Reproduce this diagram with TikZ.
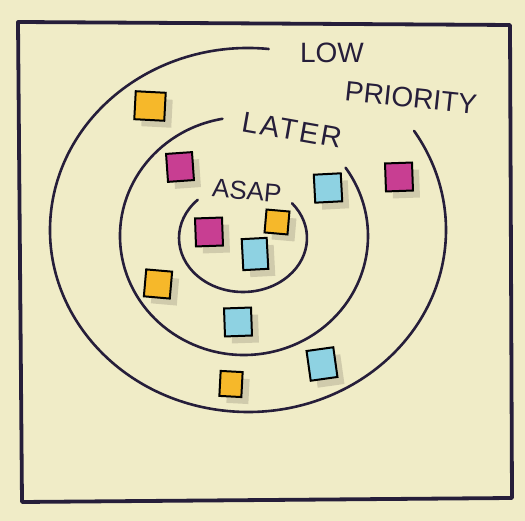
\documentclass[tikz,border=0pt]{standalone}
\usepackage{fontspec}
\setmainfont{Liberation Sans}
\usetikzlibrary{shadows}

\definecolor{paper}{RGB}{240,236,199}
\definecolor{ink}{RGB}{38,30,58}
\definecolor{noteyellow}{RGB}{246,184,42}
\definecolor{notepink}{RGB}{200,62,146}
\definecolor{notecyan}{RGB}{142,210,226}
\definecolor{shade}{RGB}{150,144,122}

\begin{document}
\begin{tikzpicture}[x=1pt, y=1pt,
    ring/.style={draw=ink, line width=2.6pt, line cap=round},
    label/.style={text=ink, inner sep=0pt, font=\fontsize{28}{30}\selectfont},
    note/.style={draw=black, line width=2pt, inner sep=0pt,
        minimum width=27pt, minimum height=28pt,
        drop shadow={shadow xshift=7pt, shadow yshift=-7pt, opacity=0.35, fill=shade}}]
    % sheet and frame
    \fill[paper] (0,0) rectangle (525,521);
    \draw[draw=ink, line width=3.8pt, line join=round] (18,499) -- (510,496) -- (512,23) -- (22,19) -- cycle;

    % the three rings, each left open at the top right
    \draw[ring] (248,291) ++(84:198 and 182) arc[start angle=84, end angle=393, x radius=198, y radius=182];
    \draw[ring] (244,285) ++(100:124 and 119) arc[start angle=100, end angle=395, x radius=124, y radius=119];
    \draw[ring] (243,283) ++(135:64 and 54) arc[start angle=135, end angle=400, x radius=64, y radius=54];

    % ring names
    \node[label] (low) at (332,468) {LOW};
    \node[label, rotate=-6] (priority) at (411,423) {PRIORITY};
    \node[label, rotate=-10, font=\fontsize{29}{31}\selectfont\addfontfeature{LetterSpace=8}] (later) at (292,391) {LATER};
    \node[label, rotate=-5, font=\fontsize{26}{28}\selectfont] (asap) at (247,330) {ASAP};

    % notes in the inner ring
    \node[note, fill=notepink, rotate=2] (asapPink) at (209,289) {};
    \node[note, fill=noteyellow, rotate=-5, minimum width=23pt, minimum height=23pt] (asapYellow) at (277,299) {};
    \node[note, fill=notecyan, rotate=3, minimum width=25pt, minimum height=31pt] (asapCyan) at (255,267) {};

    % notes in the middle ring
    \node[note, fill=notepink, rotate=4, minimum width=26pt] (laterPink) at (180,354) {};
    \node[note, fill=notecyan, rotate=3] (laterCyanA) at (328,333) {};
    \node[note, fill=noteyellow, rotate=-5, minimum width=26pt, minimum height=27pt] (laterYellow) at (158,237) {};
    \node[note, fill=notecyan, rotate=2] (laterCyanB) at (238,199) {};

    % notes in the outer ring
    \node[note, fill=noteyellow, rotate=-3, minimum width=30pt] (lowYellowA) at (150,415) {};
    \node[note, fill=notepink, rotate=2] (lowPink) at (399,344) {};
    \node[note, fill=notecyan, rotate=8, minimum height=30pt] (lowCyan) at (322,157) {};
    \node[note, fill=noteyellow, rotate=-3, minimum width=22pt, minimum height=25pt] (lowYellowB) at (231,137) {};
\end{tikzpicture}
\end{document}
